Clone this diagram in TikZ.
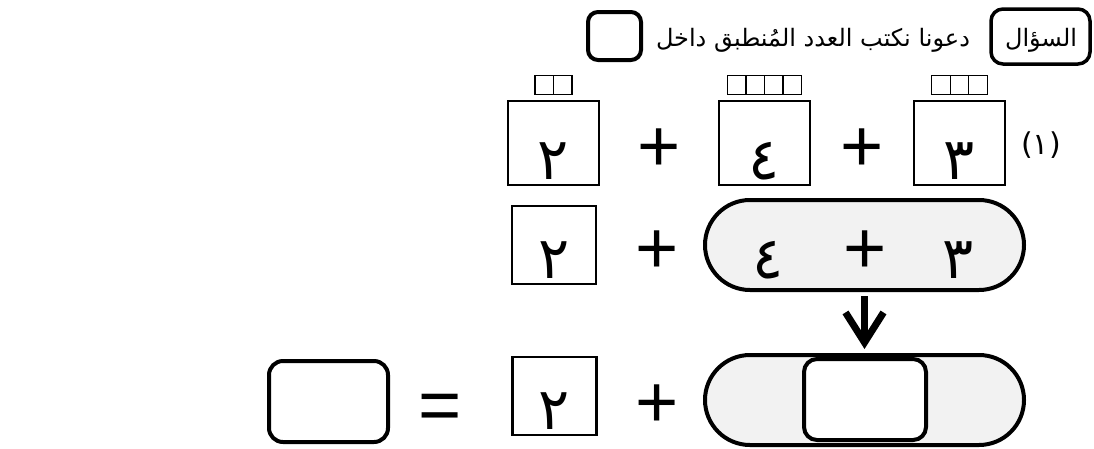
\documentclass[tikz,border=0pt]{standalone}
\usepackage{fontspec}
\usetikzlibrary{positioning,arrows.meta}
\TeXXeTstate=1
\newfontfamily\arabicfont[Script=Arabic]{DejaVu Sans}
\newfontfamily\signfont{Liberation Sans}
\definecolor{pillgray}{HTML}{F2F2F2}

\begin{document}
\begin{tikzpicture}[x=1pt,y=-1pt,
		bigbox/.style={draw,line width=2.4pt,minimum width=91pt,minimum height=84pt,inner sep=0pt,
			font=\arabicfont\fontsize{58}{60}\selectfont,text height=72pt,text depth=0pt},
		numbox/.style={draw,line width=2.4pt,minimum width=84pt,minimum height=78pt,inner sep=0pt,
			font=\arabicfont\fontsize{58}{60}\selectfont,text height=66pt,text depth=0pt},
		digit/.style={inner sep=0pt,font=\arabicfont\fontsize{58}{60}\selectfont,text height=66pt,text depth=0pt},
		cell/.style={draw,line width=1.2pt,minimum width=18.5pt,minimum height=19pt,inner sep=0pt,outer sep=0pt},
		pill/.style={draw,line width=4pt,fill=pillgray,minimum width=319pt,minimum height=90pt,
			rounded corners=45pt,inner sep=0pt},
		blank/.style={draw,line width=4pt,fill=white,rounded corners=12pt,inner sep=0pt},
		sign/.style={inner sep=0pt,font=\signfont\fontsize{74}{74}\selectfont,text height=52pt,text depth=0pt},
		words/.style={inner sep=0pt,font=\arabicfont\fontsize{24}{28}\selectfont}]
	\useasboundingbox (0,0) rectangle (1094,448);

	\node[blank,line width=3.5pt,minimum width=99pt,minimum height=55pt](qbox) at (1040.5,36.5){};
	\node[words](qword) at (1041,40){\beginR السؤال\endR};
	\node[words](task) at (813,40){\beginR دعونا نكتب العدد المُنطبق داخل\endR};
	\node[blank,rounded corners=10pt,minimum width=53pt,minimum height=48pt](qblank) at (614.5,36){};

	\node[bigbox](b1) at (553.5,143){٢};
	\node[sign](p1) at (659,145){+};
	\node[bigbox](b2) at (764.5,143){٤};
	\node[sign](p2) at (862,145){+};
	\node[bigbox](b3) at (959.5,143){٣};
	\node[words,font=\arabicfont\fontsize{30}{32}\selectfont](n1) at (1041,145){(١)};

	\node[cell,above=5pt of b1.north,xshift=-9.25pt](b1c1){};
	\node[cell,right=0pt of b1c1](b1c2){};
	\node[cell,above=5pt of b2.north,xshift=-27.75pt](b2c1){};
	\node[cell,right=0pt of b2c1](b2c2){};
	\node[cell,right=0pt of b2c2](b2c3){};
	\node[cell,right=0pt of b2c3](b2c4){};
	\node[cell,above=5pt of b3.north,xshift=-18.5pt](b3c1){};
	\node[cell,right=0pt of b3c1](b3c2){};
	\node[cell,right=0pt of b3c2](b3c3){};

	\node[numbox](a1) at (554,245){٢};
	\node[sign](p3) at (657,247){+};
	\node[pill](r2) at (864.5,245){};
	\node[digit](r2a) at (768,245){٤};
	\node[sign](r2p) at (865,247){+};
	\node[digit](r2b) at (958,245){٣};

	\node[pill](r3) at (864.5,400){};
	\node[blank,rounded corners=13pt,minimum width=122pt,minimum height=81pt](r3b) at (865,399.5){};
	\draw[line width=7pt,-{Straight Barb[length=30pt,width=38pt]},shorten <=4pt,shorten >=4pt] (r2) -- (r3);

	\node[blank,rounded corners=14pt,minimum width=119pt,minimum height=81pt](res) at (328.5,401.5){};
	\node[sign](eq) at (440,404.5){=};
	\node[numbox](a2) at (554.5,396){٢};
	\node[sign](p4) at (657,401){+};
\end{tikzpicture}
\end{document}
